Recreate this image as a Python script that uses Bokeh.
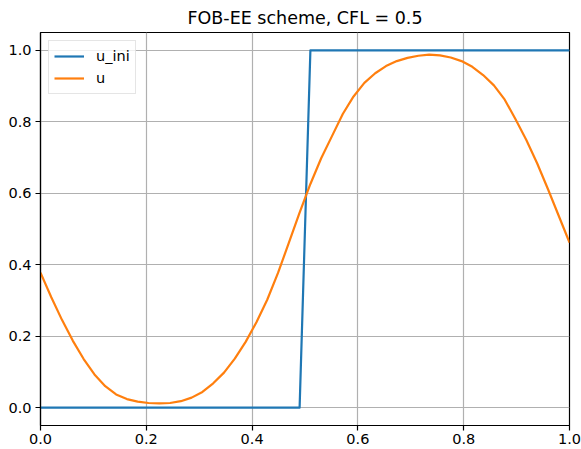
from bokeh.plotting import figure
from bokeh.models import Range1d, FixedTicker, PrintfTickFormatter, Legend, LegendItem
from bokeh.embed import file_html
from bokeh.resources import INLINE

# ---- data ----
x = [0.0000, 0.0204, 0.0408, 0.0612, 0.0816, 0.1020, 0.1224, 0.1429, 0.1633, 0.1837,
     0.2041, 0.2245, 0.2449, 0.2653, 0.2857, 0.3061, 0.3265, 0.3469, 0.3673, 0.3878,
     0.4082, 0.4286, 0.4490, 0.4694, 0.4898, 0.5102, 0.5306, 0.5510, 0.5714, 0.5918,
     0.6122, 0.6327, 0.6531, 0.6735, 0.6939, 0.7143, 0.7347, 0.7551, 0.7755, 0.7959,
     0.8163, 0.8367, 0.8571, 0.8776, 0.8980, 0.9184, 0.9388, 0.9592, 0.9796, 1.0000]

u_ini = [0, 0, 0, 0, 0, 0, 0, 0, 0, 0,
         0, 0, 0, 0, 0, 0, 0, 0, 0, 0,
         0, 0, 0, 0, 0, 1, 1, 1, 1, 1,
         1, 1, 1, 1, 1, 1, 1, 1, 1, 1,
         1, 1, 1, 1, 1, 1, 1, 1, 1, 1]

u = [0.378, 0.309, 0.245, 0.187, 0.136, 0.093, 0.060, 0.037, 0.024, 0.017,
     0.013, 0.012, 0.013, 0.018, 0.028, 0.044, 0.068, 0.098, 0.137, 0.184,
     0.239, 0.302, 0.377, 0.461, 0.546, 0.626, 0.698, 0.760, 0.822, 0.871,
     0.909, 0.936, 0.956, 0.970, 0.979, 0.985, 0.988, 0.986, 0.980, 0.970,
     0.954, 0.931, 0.902, 0.862, 0.807, 0.749, 0.684, 0.612, 0.537, 0.462]

tick_values = [0.0, 0.2, 0.4, 0.6, 0.8, 1.0]
title_text = "FOB-EE scheme, CFL = 0.5"
series_names = ["u_ini", "u"]
series_colors = ["#1f77b4", "#ff7f0e"]

FONT = "DejaVu Sans"

p = figure(width=581, height=449, output_backend="svg", toolbar_location=None,
           x_range=Range1d(0, 1), y_range=Range1d(-0.05, 1.05),
           min_border_left=40, min_border_right=12, min_border_top=30, min_border_bottom=24)

p.title.text = title_text
p.title.text_font = FONT
p.title.text_font_size = "17.5px"
p.title.text_font_style = "normal"
p.title.align = "center"
p.title.text_color = "black"
p.title.standoff = 10

for ax in (p.xaxis[0], p.yaxis[0]):
    ax.ticker = FixedTicker(ticks=tick_values)
    ax.formatter = PrintfTickFormatter(format="%.1f")
    ax.major_label_text_font = FONT
    ax.major_label_text_font_size = "14.5px"
    ax.major_label_text_color = "black"
    ax.axis_line_color = "black"
    ax.axis_line_width = 1.2
    ax.major_tick_line_color = "black"
    ax.major_tick_line_width = 1.2
    ax.major_tick_in = 0
    ax.major_tick_out = 5
    ax.minor_tick_line_color = None
p.xaxis[0].major_label_standoff = 3
p.yaxis[0].major_label_standoff = 4

p.outline_line_color = "black"
p.outline_line_width = 1.2
p.outline_line_alpha = 1

for g in (p.xgrid[0], p.ygrid[0]):
    g.grid_line_color = "#b0b0b0"
    g.grid_line_width = 1.2
    g.ticker = FixedTicker(ticks=tick_values)

r1 = p.line(x, u_ini, line_color=series_colors[0], line_width=2.2, line_join="round")
r2 = p.line(x, u, line_color=series_colors[1], line_width=2.2, line_join="round")

legend = Legend(items=[LegendItem(label=series_names[0], renderers=[r1]),
                       LegendItem(label=series_names[1], renderers=[r2])],
                location="top_left")
legend.margin = 8
legend.padding = 5
legend.spacing = 2
legend.glyph_width = 30
legend.glyph_height = 20
legend.label_height = 20
legend.label_standoff = 12
legend.label_text_font = FONT
legend.label_text_font_size = "14.5px"
legend.label_text_color = "black"
legend.border_line_color = "#cccccc"
legend.border_line_width = 1
legend.background_fill_alpha = 0.8
p.add_layout(legend)

open("out.html", "w").write(file_html(p, INLINE))
